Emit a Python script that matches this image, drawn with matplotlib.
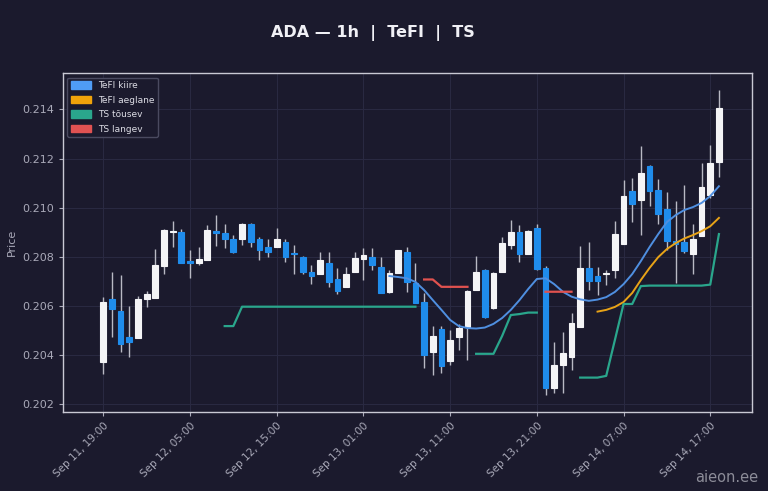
import numpy as np
import pandas as pd
import matplotlib
matplotlib.use("Agg")
import matplotlib.pyplot as plt
import matplotlib.dates as mdates
from matplotlib.patches import Patch

nan = np.nan

# hourly ADA candles, Sep 11 19:00 -> Sep 14 18:00
opens = [0.20372, 0.20626, 0.20580, 0.20473, 0.20469, 0.20629, 0.20631, 0.20763, 0.20900, 0.20901, 0.20782, 0.20773,
         0.20786, 0.20905, 0.20897, 0.20870, 0.20870, 0.20933, 0.20870, 0.20838, 0.20838, 0.20861, 0.20815, 0.20800,
         0.20738, 0.20729, 0.20773, 0.20709, 0.20677, 0.20738, 0.20789, 0.20800, 0.20759, 0.20657, 0.20732, 0.20820,
         0.20691, 0.20616, 0.20413, 0.20504, 0.20376, 0.20471, 0.20512, 0.20664, 0.20745, 0.20590, 0.20738, 0.20847,
         0.20901, 0.20811, 0.20915, 0.20752, 0.20264, 0.20359, 0.20393, 0.20515, 0.20755, 0.20721, 0.20730, 0.20745,
         0.20850, 0.21067, 0.21030, 0.21170, 0.21071, 0.20996, 0.20863, 0.20861, 0.20811, 0.20884, 0.21051, 0.21186]
highs = [0.20637, 0.20738, 0.20724, 0.20599, 0.20640, 0.20661, 0.20831, 0.20911, 0.20945, 0.20911, 0.20827, 0.20840,
         0.20929, 0.20969, 0.20933, 0.20889, 0.20938, 0.20938, 0.20881, 0.20870, 0.20915, 0.20870, 0.20847, 0.20802,
         0.20766, 0.20820, 0.20820, 0.20752, 0.20759, 0.20820, 0.20834, 0.20834, 0.20800, 0.20745, 0.20827, 0.20840,
         0.20773, 0.20651, 0.20517, 0.20517, 0.20501, 0.20526, 0.20664, 0.20802, 0.20750, 0.20738, 0.20881, 0.20949,
         0.20929, 0.20908, 0.20935, 0.20760, 0.20454, 0.20494, 0.20569, 0.20843, 0.20861, 0.20759, 0.20745, 0.20945,
         0.21112, 0.21121, 0.21250, 0.21175, 0.21117, 0.21064, 0.21027, 0.21094, 0.20933, 0.21180, 0.21257, 0.21481]
lows = [0.20322, 0.20471, 0.20413, 0.20390, 0.20469, 0.20594, 0.20631, 0.20729, 0.20838, 0.20773, 0.20712, 0.20766,
        0.20786, 0.20844, 0.20834, 0.20813, 0.20847, 0.20840, 0.20786, 0.20800, 0.20838, 0.20779, 0.20729, 0.20729,
        0.20688, 0.20729, 0.20677, 0.20648, 0.20677, 0.20738, 0.20705, 0.20745, 0.20653, 0.20651, 0.20732, 0.20657,
        0.20612, 0.20345, 0.20318, 0.20325, 0.20359, 0.20420, 0.20379, 0.20664, 0.20550, 0.20585, 0.20738, 0.20830,
        0.20779, 0.20811, 0.20745, 0.20237, 0.20244, 0.20244, 0.20338, 0.20515, 0.20664, 0.20644, 0.20684, 0.20712,
        0.20850, 0.20942, 0.20888, 0.21006, 0.20935, 0.20827, 0.20691, 0.20813, 0.20729, 0.20884, 0.21040, 0.21123]
closes = [0.20616, 0.20585, 0.20444, 0.20454, 0.20629, 0.20648, 0.20766, 0.20908, 0.20903, 0.20773, 0.20773, 0.20790,
          0.20907, 0.20895, 0.20870, 0.20820, 0.20933, 0.20858, 0.20827, 0.20820, 0.20870, 0.20797, 0.20811, 0.20738,
          0.20721, 0.20786, 0.20698, 0.20661, 0.20729, 0.20793, 0.20806, 0.20766, 0.20653, 0.20734, 0.20827, 0.20698,
          0.20612, 0.20399, 0.20477, 0.20355, 0.20460, 0.20508, 0.20660, 0.20738, 0.20555, 0.20734, 0.20854, 0.20901,
          0.20811, 0.20904, 0.20748, 0.20264, 0.20359, 0.20409, 0.20528, 0.20752, 0.20701, 0.20701, 0.20734, 0.20891,
          0.21047, 0.21013, 0.21141, 0.21068, 0.20973, 0.20865, 0.20850, 0.20824, 0.20874, 0.21084, 0.21180, 0.21408]

# indicator lines (nan = not drawn)
tefi_fast = [nan, nan, nan, nan, nan, nan, nan, nan, nan, nan, nan, nan,
             nan, nan, nan, nan, nan, nan, nan, nan, nan, nan, nan, nan,
             nan, nan, nan, nan, nan, nan, nan, nan, nan, 0.20721, 0.20717, 0.20712,
             0.20697, 0.20664, 0.20623, 0.20583, 0.20542, 0.20517, 0.20509, 0.20507, 0.20511, 0.20526, 0.20550, 0.20583,
             0.20623, 0.20668, 0.20709, 0.20712, 0.20688, 0.20657, 0.20637, 0.20626, 0.20620, 0.20625, 0.20635, 0.20656,
             0.20688, 0.20729, 0.20782, 0.20839, 0.20892, 0.20941, 0.20969, 0.20990, 0.21002, 0.21019, 0.21047, 0.21087]
tefi_slow = [nan, nan, nan, nan, nan, nan, nan, nan, nan, nan, nan, nan,
             nan, nan, nan, nan, nan, nan, nan, nan, nan, nan, nan, nan,
             nan, nan, nan, nan, nan, nan, nan, nan, nan, nan, nan, nan,
             nan, nan, nan, nan, nan, nan, nan, nan, nan, nan, nan, nan,
             nan, nan, nan, nan, nan, nan, nan, nan, nan, 0.20576, 0.20583, 0.20595,
             0.20615, 0.20652, 0.20705, 0.20754, 0.20798, 0.20831, 0.20855, 0.20874, 0.20888, 0.20904, 0.20924, 0.20958]
ts_up = [nan, nan, nan, nan, nan, nan, nan, nan, nan, nan, nan, nan,
         nan, nan, 0.20517, 0.20517, 0.20596, 0.20596, 0.20596, 0.20596, 0.20596, 0.20596, 0.20596, 0.20596,
         0.20596, 0.20596, 0.20596, 0.20596, 0.20596, 0.20596, 0.20596, 0.20596, 0.20596, 0.20596, 0.20596, 0.20596,
         0.20596, nan, nan, nan, nan, nan, nan, 0.20404, 0.20404, 0.20404, 0.20477, 0.20562,
         0.20566, 0.20572, 0.20572, nan, nan, nan, nan, 0.20307, 0.20307, 0.20307, 0.20314, 0.20460,
         0.20607, 0.20607, 0.20680, 0.20682, 0.20682, 0.20682, 0.20682, 0.20682, 0.20682, 0.20682, 0.20686, 0.20892]
ts_down = [nan, nan, nan, nan, nan, nan, nan, nan, nan, nan, nan, nan,
           nan, nan, nan, nan, nan, nan, nan, nan, nan, nan, nan, nan,
           nan, nan, nan, nan, nan, nan, nan, nan, nan, nan, nan, nan,
           nan, 0.20707, 0.20707, 0.20677, 0.20677, 0.20677, 0.20677, nan, nan, nan, nan, nan,
           nan, nan, nan, 0.20657, 0.20657, 0.20657, 0.20657, nan, nan, nan, nan, nan,
           nan, nan, nan, nan, nan, nan, nan, nan, nan, nan, nan, nan]

BG = "#1b1a2d"
UP = "#f4f4f6"
DOWN = "#1f8ceb"
WICK = "#b9b9c4"
TXT = "#a9a9b8"

times = pd.date_range("2023-09-11 19:00", periods=len(opens), freq="h")
x = mdates.date2num(times)
hour = 1 / 24

fig = plt.figure(figsize=(7.68, 4.91), dpi=100, facecolor=BG)
ax = fig.add_axes([0.082, 0.161, 0.897, 0.690], facecolor=BG)

for xi, o, h, l, c in zip(x, opens, highs, lows, closes):
    col = UP if c >= o else DOWN
    ax.vlines(xi, l, h, color=WICK, lw=1.0, zorder=2)
    ax.bar(xi, abs(c - o), bottom=min(o, c), width=0.66 * hour,
           color=col, edgecolor=col, linewidth=0.8, zorder=3)

ax.plot(x, tefi_fast, color="#4f8fe0", lw=1.4, zorder=4)
ax.plot(x, tefi_slow, color="#e8a317", lw=1.4, zorder=4)
ax.plot(x, ts_up, color="#2aa68c", lw=1.6, zorder=4)
ax.plot(x, ts_down, color="#e0524f", lw=1.6, zorder=4)

ax.set_xlim(x[0] - 4.65 * hour, x[0] + 74.8 * hour)
ax.set_ylim(0.20167, 0.21548)

tick_times = pd.date_range("2023-09-11 19:00", periods=8, freq="10h")
ax.set_xticks(mdates.date2num(tick_times))
ax.xaxis.set_major_formatter(mdates.DateFormatter("%b %d, %H:%M"))
ax.set_yticks([0.202, 0.204, 0.206, 0.208, 0.210, 0.212, 0.214])
ax.yaxis.set_major_formatter(plt.FormatStrFormatter("%.3f"))
plt.setp(ax.get_xticklabels(), rotation=45, ha="right", rotation_mode="anchor")
ax.tick_params(axis="x", colors=TXT, labelsize=7.5, length=3)
ax.tick_params(axis="y", colors=TXT, labelsize=8, length=3)
ax.grid(True, color="#2a2a42", lw=0.7)
ax.set_axisbelow(True)
for sp in ax.spines.values():
    sp.set_color("#c9c9d4")
    sp.set_linewidth(1.0)

ax.set_ylabel("Price", color=TXT, fontsize=8)

handles = [Patch(color="#4f9cf5", label="TeFI kiire"),
           Patch(color="#f0a30a", label="TeFI aeglane"),
           Patch(color="#2aa68c", label="TS tõusev"),
           Patch(color="#e05252", label="TS langev")]
leg = ax.legend(handles=handles, loc="upper left", fontsize=6.5, facecolor=BG,
                edgecolor="#4a4a60", labelcolor="#dcdce4", framealpha=1.0,
                handlelength=2.2, handleheight=0.9, labelspacing=0.6)

fig.text(0.486, 0.933, "ADA — 1h  |  TeFI  |  TS", color="#f0f0f5",
         fontsize=11.5, fontweight="bold", ha="center", va="center")
fig.text(0.987, 0.012, "aieon.ee", color="#8c8c98", fontsize=10.5, ha="right", va="bottom")

fig.savefig("out.png", dpi=100, facecolor=BG)
